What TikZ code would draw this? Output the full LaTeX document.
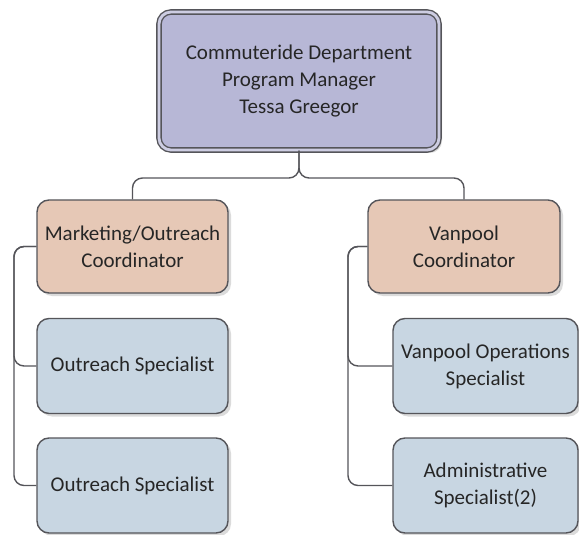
\documentclass[tikz,border=0pt]{standalone}
\usepackage{fontspec}
\setmainfont{Carlito}
\usepackage{tikz}
\usetikzlibrary{shapes, positioning, calc, shadows}
\definecolor{headlav}{RGB}{183, 183, 214}
\definecolor{coordpeach}{RGB}{230, 200, 182}
\definecolor{specblue}{RGB}{200, 214, 226}
\definecolor{edgegray}{RGB}{85, 85, 90}

\begin{document}
\begin{tikzpicture}[
  x=0.5pt, y=-0.5pt,
  card/.style={draw=edgegray, line width=0.7pt, rounded corners=6pt, align=center, inner sep=2pt,
    font=\fontsize{10.5}{13.5}\selectfont, text=black!85,
    drop shadow={shadow xshift=1.5pt, shadow yshift=-1.5pt, fill=gray!35, opacity=0.8}},
  headbox/.style={card, fill=headlav, double=headlav!70!white, double distance=1.4pt, minimum width=140pt, minimum height=69pt},
  coordbox/.style={card, fill=coordpeach, minimum width=95.5pt, minimum height=46.5pt},
  specbox/.style={card, fill=specblue, minimum width=95.5pt, minimum height=47.5pt},
  link/.style={draw=edgegray, line width=0.7pt, rounded corners=5pt}
]
  \useasboundingbox (0,0) rectangle (579,535);
  \node[headbox] (head) at (299, 81) {Commuteride Department\\Program Manager\\Tessa Greegor};

  \node[coordbox] (mkt) at (132.5, 246.5) {Marketing/Outreach\\Coordinator};
  \node[specbox] (out1) at (132.5, 366) {Outreach Specialist};
  \node[specbox] (out2) at (132.5, 485.5) {Outreach Specialist};

  \node[coordbox, minimum width=96pt] (van) at (464, 246.5) {Vanpool\\Coordinator};
  \node[specbox, minimum width=92.5pt] (vops) at (485.5, 366) {Vanpool Operations\\Specialist};
  \node[specbox, minimum width=92.5pt] (adm) at (485.5, 485.5) {Administrative\\Specialist(2)};

  % head to coordinators
  \draw[link] (head.south) -- (head.south |- 0,178) -| (mkt.north);
  \draw[link] (head.south) -- (head.south |- 0,178) -| (van.north);

  % coordinators to specialists
  \draw[link] (mkt.west) -- (14, 246.5) |- (out1.west);
  \draw[link] (mkt.west) -- (14, 246.5) |- (out2.west);
  \draw[link] (van.west) -- (348, 246.5) |- (vops.west);
  \draw[link] (van.west) -- (348, 246.5) |- (adm.west);
\end{tikzpicture}
\end{document}
